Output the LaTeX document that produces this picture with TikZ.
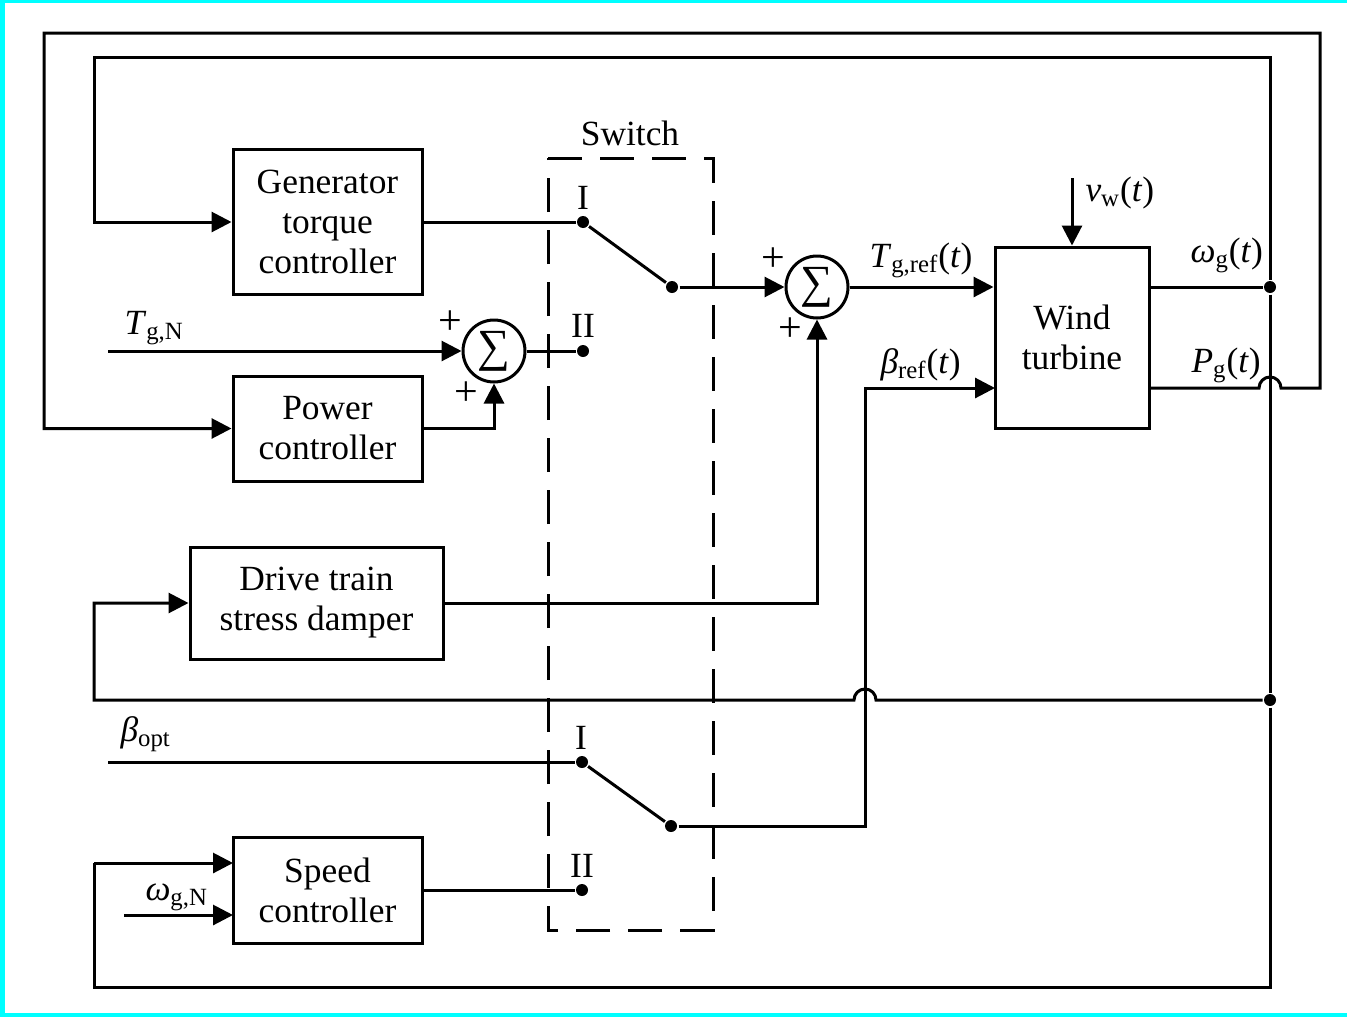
\documentclass[tikz,border=0pt]{standalone}
\usepackage{fontspec}
\setmainfont{Liberation Serif}
\usetikzlibrary{arrows.meta,calc}
\definecolor{framecyan}{RGB}{0,255,255}
\newcommand{\sbs}[1]{\textsubscript{#1}}
\begin{document}
\begin{tikzpicture}[x=0.5pt,y=-0.5pt, line width=1.5pt,
  font=\fontsize{17.7}{20}\selectfont,
  blk/.style={draw, rectangle, inner sep=0pt, align=center},
  sumnode/.style={draw, circle, minimum size=31pt, inner sep=0pt, font=\fontsize{23}{23}\selectfont},
  dotn/.style={circle, fill, minimum size=6pt, inner sep=0pt},
  arr/.style={-{Triangle[length=10pt,width=10pt]}},
  lbl/.style={inner sep=0pt},
  plus/.style={inner sep=0pt, font=\fontsize{21}{21}\selectfont},
  swbox/.style={dash pattern=on 17pt off 9pt}]
\useasboundingbox (0,0) rectangle (1347,1017);
\fill[white] (0,0) rectangle (1347,1017);
\fill[framecyan] (0,0) rectangle (5,1017);
\fill[framecyan] (0,0) rectangle (1347,3);
\fill[framecyan] (0,1013) rectangle (1347,1017);

% blocks
\node[blk, minimum width=94.5pt, minimum height=72.5pt] (gtc) at (327.5,222) {Generator\\torque\\controller};
\node[blk, minimum width=94.5pt, minimum height=52.5pt] (pc) at (327.5,428.5) {Power\\controller};
\node[blk, minimum width=126.5pt, minimum height=56pt] (dtsd) at (316.5,603) {Drive train\\stress damper};
\node[blk, minimum width=94.5pt, minimum height=53pt] (sc) at (327.5,890) {Speed\\controller};
\node[blk, minimum width=77pt, minimum height=90.5pt] (wt) at (1072,337.5) {Wind\\turbine};

% sums
\node[sumnode] (s1) at (494,351) {∑};
\node[sumnode] (s2) at (817,287) {∑};

% switch dots
\node[dotn] (a1) at (583,222) {};
\node[dotn] (a2) at (583,351) {};
\node[dotn] (p1) at (672,287) {};
\node[dotn] (b1) at (582,762) {};
\node[dotn] (b2) at (582,890) {};
\node[dotn] (p2) at (671,826) {};
\node[dotn] (jw) at (1270,287) {};
\node[dotn] (jd) at (1270,700) {};

% ports and free ends
\coordinate (tgn) at (108,351);
\coordinate (bopt) at (108,762);
\coordinate (wgn) at (124,915);
\coordinate (scA) at (233,863);
\coordinate (scB) at (233,915);
\coordinate (vw) at (1072,178);
\coordinate (wtB) at (995,388);
\coordinate (wtW) at (1149,287);
\coordinate (wtP) at (1149,388);
\coordinate (bc) at (865,826);
\coordinate (bt) at (865,388);

% switch box
\draw[swbox] (548,158) -- (713,158) -- (713,930) -- (548,930) -- cycle;
\node[lbl] at (630,133) {Switch};
\node[lbl] at (583,198) {I};
\node[lbl] at (583,326) {II};
\node[lbl] at (581,738) {I};
\node[lbl] at (582,866) {II};

% connectors
\draw (gtc.east) -- (a1);
\draw (a1) -- (p1);
\draw[arr] (p1) -- (s2.west);
\draw[arr] (tgn) -- (s1.west);
\draw[arr] (pc.east) -| (s1.south);
\draw (s1.east) -- (a2);
\draw[arr] (dtsd.east) -| (s2.south);
\draw[arr] (s2.east) -- (wt.west |- s2);
\draw[arr] (vw) -- (wt.north);
\draw (bopt) -- (b1);
\draw (b1) -- (p2);
\draw (sc.east) -- (b2);
\draw[arr] (p2) -- (bc) -- (bt) -- (wtB);
\draw[arr] (wgn) -- (scB);

% feedback loops
\draw (wtW) -- (jw);
\draw[arr] (jw) -- (1270,57) -- (94,57) |- (gtc.west);
\draw (jw) -- (jd) -- (1270,987) -- (94,987) -- (94,863);
\draw[arr] (94,863) -- (scA);
\draw[arr] (jd) -- (876,700) arc[start angle=360, end angle=180, radius=11] -- (94,700) |- (dtsd.west);
\draw[arr] (wtP) -- (1259,388) arc[start angle=180, end angle=360, radius=11] -- (1320,388) -- (1320,33) -- (44,33) |- (pc.west);

% plus signs
\node[plus] at (450,323) {+};
\node[plus] at (466,394) {+};
\node[plus] at (773,260) {+};
\node[plus] at (790,330) {+};

% signal labels
\node[lbl, anchor=base west] at (123,334) {\textit{T}\sbs{g,N}};
\node[lbl, anchor=base west] at (119,741) {\textit{β}\sbs{opt}};
\node[lbl, anchor=base west] at (144,900) {\textit{ω}\sbs{g,N}};
\node[lbl, anchor=base west] at (868,267) {\textit{T}\sbs{g,ref}(\textit{t})};
\node[lbl, anchor=base west] at (879,373) {\textit{β}\sbs{ref}(\textit{t})};
\node[lbl, anchor=base west] at (1084,201) {\textit{v}\sbs{w}(\textit{t})};
\node[lbl, anchor=base west] at (1189,262) {\textit{ω}\sbs{g}(\textit{t})};
\node[lbl, anchor=base west] at (1190,372) {\textit{P}\sbs{g}(\textit{t})};
\end{tikzpicture}
\end{document}
